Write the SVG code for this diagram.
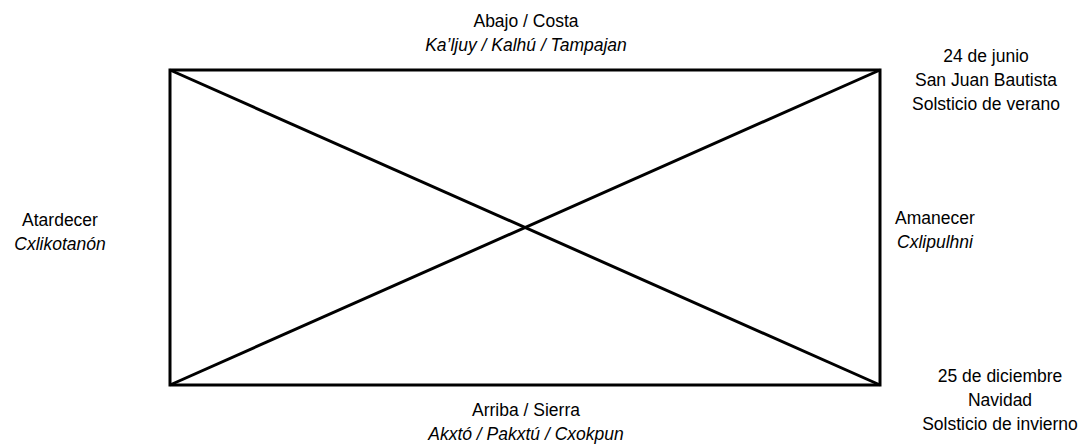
<svg xmlns="http://www.w3.org/2000/svg" width="1083" height="447" viewBox="0 0 1083 447">
<style>
text{font-family:"Liberation Sans",Arial,sans-serif;font-size:17.5px;fill:#000;text-anchor:middle}
.i{font-style:italic}
.ln{stroke:#000;stroke-width:3;fill:none}
</style>
<rect width="1083" height="447" fill="#fff"/>
<g id="frame">
<rect class="ln" x="170" y="70" width="710" height="315"/>
</g>
<g id="connectors">
<line class="ln" x1="170" y1="70" x2="880" y2="385"/>
<line class="ln" x1="880" y1="70" x2="170" y2="385"/>
</g>
<g id="top">
<text x="526" y="27">Abajo / Costa</text>
<text class="i" x="526" y="51">Ka’ljuy / Kalhú / Tampajan</text>
</g>
<g id="topright">
<text x="986" y="62">24 de junio</text>
<text x="986" y="86">San Juan Bautista</text>
<text x="986" y="110">Solsticio de verano</text>
</g>
<g id="left">
<text x="60" y="226">Atardecer</text>
<text class="i" x="60" y="250">Cxlikotanón</text>
</g>
<g id="right">
<text x="935" y="224">Amanecer</text>
<text class="i" x="935" y="248">Cxlipulhni</text>
</g>
<g id="bottom">
<text x="526" y="416">Arriba / Sierra</text>
<text class="i" x="526" y="440">Akxtó / Pakxtú / Cxokpun</text>
</g>
<g id="bottomright">
<text x="1000" y="382">25 de diciembre</text>
<text x="1000" y="406">Navidad</text>
<text x="1000" y="430">Solsticio de invierno</text>
</g>
</svg>
